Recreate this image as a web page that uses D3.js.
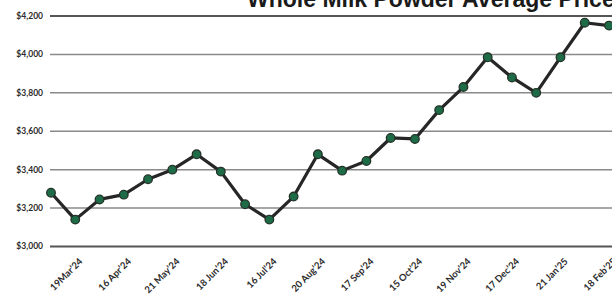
<!DOCTYPE html>
<style>
  body { margin: 0; background: white; }
  svg { display: block; }
  .ylab { font: bold 8.5px Lato, sans-serif; fill: #2b2b2b; }
  .xlab { font: bold 9.5px Lato, sans-serif; fill: #2b2b2b; }
  .title { font: bold 23px "Liberation Sans", Arial, sans-serif; fill: #1a1a1a; }
</style>
<body>
</body>
<script src="https://cdn.jsdelivr.net/npm/d3@7"></script>
<script>
  const dates = ['5 Mar\u201924', '19Mar\u201924', '2 Apr\u201924', '16 Apr\u201924', '7 May\u201924', '21 May\u201924',
    '4 Jun\u201924', '18 Jun\u201924', '2 Jul\u201924', '16 Jul\u201924', '6 Aug\u201924', '20 Aug\u201924',
    '3 Sep\u201924', '17 Sep\u201924', '1 Oct\u201924', '15 Oct\u201924', '5 Nov\u201924', '19 Nov\u201924',
    '3 Dec\u201924', '17 Dec\u201924', '7 Jan\u201925', '21 Jan\u201925', '4 Feb\u201925', '18 Feb\u201925'];
  const prices = [3280, 3140, 3245, 3270, 3350, 3400, 3480, 3390, 3220, 3140, 3260, 3480,
    3395, 3445, 3565, 3560, 3710, 3830, 3985, 3880, 3800, 3985, 4165, 4150];
  const yTicks = [3000, 3200, 3400, 3600, 3800, 4000, 4200];
  const title = 'Whole Milk Powder Average Price';

  const w = 612, h = 301;
  const svg = d3.select('body').append('svg')
    .attr('width', w)
    .attr('height', h);

  const x = d3.scalePoint().domain(dates).range([51, 609]);
  const y = d3.scaleLinear().domain([3000, 4200]).range([246.5, 16]);

  // grid lines
  svg.append('g').selectAll('line')
    .data(yTicks)
    .join('line')
      .attr('x1', 50).attr('x2', w)
      .attr('y1', d => y(d)).attr('y2', d => y(d))
      .attr('stroke', d => (d === 3000 || d === 4200) ? '#555' : '#8a8a8a')
      .attr('stroke-width', d => (d === 3000 || d === 4200) ? 2 : 1.5);

  const fmt = d3.format('$,');
  svg.append('g').selectAll('text')
    .data(yTicks)
    .join('text')
      .attr('class', 'ylab')
      .attr('x', 43)
      .attr('y', d => y(d))
      .attr('dy', '0.35em')
      .attr('text-anchor', 'end')
      .text(d => fmt(d));

  // x labels every second sale
  svg.append('g').selectAll('text')
    .data(dates.filter((d, i) => i % 2 === 1))
    .join('text')
      .attr('class', 'xlab')
      .attr('text-anchor', 'end')
      .attr('transform', d => `translate(${x(d) + 8}, 262) rotate(-45)`)
      .text(d => d);

  const line = d3.line()
    .x((d, i) => x(dates[i]))
    .y(d => y(d));

  svg.append('path')
    .datum(prices)
    .attr('d', line)
    .attr('fill', 'none')
    .attr('stroke', '#262626')
    .attr('stroke-width', 3.2)
    .attr('stroke-linejoin', 'round');

  svg.append('g').selectAll('circle')
    .data(prices)
    .join('circle')
      .attr('cx', (d, i) => x(dates[i]))
      .attr('cy', d => y(d))
      .attr('r', 4.3)
      .attr('fill', '#1d6b47')
      .attr('stroke', '#243328')
      .attr('stroke-width', 1.3);

  svg.append('text')
    .attr('class', 'title')
    .attr('x', 247)
    .attr('y', 7)
    .text(title);
</script>
